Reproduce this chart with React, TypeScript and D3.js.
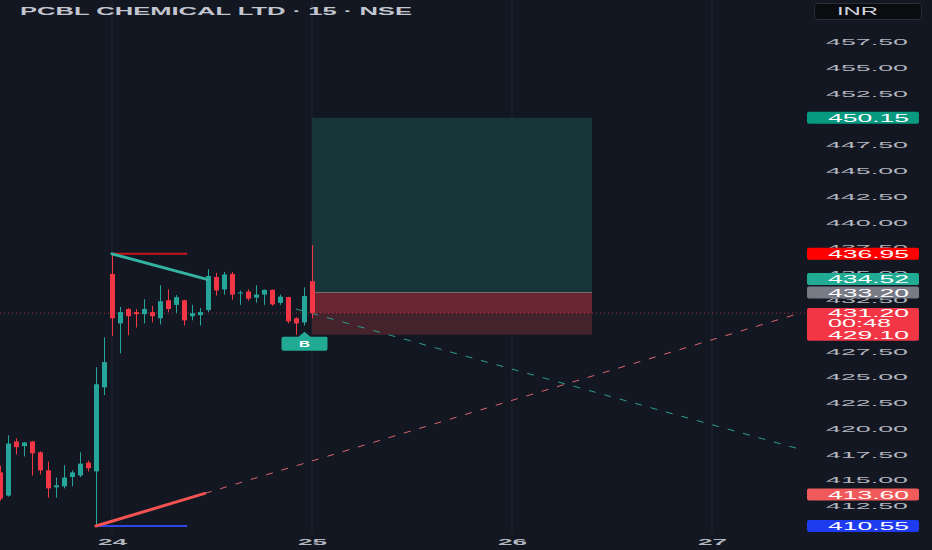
import React, { useEffect, useRef } from 'react';
import * as d3 from 'd3';

const WIDTH = 932;
const HEIGHT = 550;

// 15m bars, index 0 = first bar of the 24th (25 bars a session)
const barIndex = [-14, -13, -12, -11, -10, -9, -8, -7, -6, -5, -4, -3, -2, -1,
  0, 1, 2, 3, 4, 5, 6, 7, 8, 9, 10, 11, 12, 13, 14, 15, 16, 17, 18, 19, 20, 21, 22, 23, 24, 25];
const opens = [415.75, 413.5, 418.75, 418.3, 418.75, 417.7, 415.95, 414.3, 414.4, 415.3, 415.45, 416.7, 415.85, 424.0,
  435.0, 430.2, 431.6, 431.3, 431.1, 431.3, 430.7, 432.45, 432.0, 432.45, 430.9, 431.0, 431.5, 434.7, 433.5, 435.0,
  433.1, 433.3, 432.7, 433.0, 433.45, 432.2, 432.75, 430.7, 430.3, 434.3];
const highs = [416.4, 419.35, 419.05, 418.7, 418.8, 417.8, 416.8, 415.25, 416.45, 415.95, 417.7, 416.9, 425.95, 428.85,
  436.95, 431.8, 431.7, 431.6, 432.55, 431.9, 433.9, 433.5, 432.95, 432.5, 432.0, 431.7, 435.45, 435.1, 435.2, 435.2,
  433.4, 433.5, 433.9, 433.5, 433.5, 433.0, 432.8, 430.8, 433.7, 437.8];
const lows = [413.0, 413.4, 417.5, 417.3, 415.45, 415.55, 413.3, 413.3, 414.2, 414.4, 415.3, 415.85, 410.55, 423.25,
  429.0, 427.3, 429.05, 429.8, 430.2, 430.3, 430.1, 431.3, 431.2, 430.0, 430.5, 430.0, 431.3, 432.9, 433.0, 432.5,
  432.0, 432.4, 432.2, 432.0, 431.9, 432.0, 430.2, 429.1, 430.0, 430.7];
const closes = [413.2, 418.55, 418.2, 418.65, 417.6, 415.95, 414.2, 414.5, 415.25, 415.75, 416.6, 416.15, 424.3, 426.45,
  430.7, 431.3, 430.9, 431.1, 431.6, 430.9, 432.35, 431.6, 432.75, 430.5, 431.2, 431.3, 434.8, 433.4, 434.95, 433.0,
  433.2, 432.6, 433.0, 433.45, 432.05, 432.8, 430.4, 430.2, 432.85, 431.2];

// 450.00 and 430.00 sit fully under price tags, so they are left out
const priceTicks = [457.5, 455, 452.5, 447.5, 445, 442.5, 440, 437.5, 435, 432.5, 427.5, 425, 422.5, 420, 417.5, 415, 412.5];
const dayLabels = ['24', '25', '26', '27'];
const dayStarts = [0, 25, 50, 75];

// drawings, as [bar index, price]
const highLine = [[0, 436.95], [9.4, 436.95]];
const fallingLine = [[0, 436.95], [12, 434.45]];
const fallingExt = [[23, 431.6], [86, 418.0]];
const risingLine = [[-2, 410.55], [11.6, 413.71]];
const risingExt = [[11.6, 413.71], [86, 431.2]];
const lowLine = [[-2, 410.55], [9.4, 410.55]];

// long position tool
const positionBars = [25, 60];
const targetPrice = 450.15;
const entryPrice = 433.2;
const stopPrice = 429.1;
const lastPrice = 431.2;
const countdown = '00:48';
const buyBar = 24;

const tagPrices = [450.15, 436.95, 434.52, 433.2, 413.6, 410.55];
const tagColors = ['#089981', '#ff0000', '#22ab94', '#787b86', '#f05a5a', '#1e3bf0'];

const App: React.FC = () => {
  const svgRef = useRef<SVGSVGElement>(null);

  useEffect(() => {
    if (!svgRef.current) return;
    const svg = d3.select(svgRef.current);
    svg.selectAll('*').remove();

    const x = d3.scaleLinear().domain([0, 25]).range([112, 312]);
    const y = d3.scaleLinear().domain([410.55, 457.5]).range([526, 42]);
    const plotRight = 805;
    const font = "'Liberation Sans', Arial, sans-serif";
    const up = '#26a69a';
    const down = '#f23645';

    svg.append('rect').attr('width', WIDTH).attr('height', HEIGHT).attr('fill', '#131722');

    svg.append('defs').append('clipPath').attr('id', 'plot')
      .append('rect').attr('x', 0).attr('y', 0).attr('width', plotRight).attr('height', 533);

    // day grid
    svg.append('g').selectAll('line').data(dayStarts).join('line')
      .attr('x1', d => x(d)).attr('x2', d => x(d))
      .attr('y1', 0).attr('y2', 533)
      .attr('stroke', '#232733').attr('stroke-width', 1);

    const plot = svg.append('g').attr('clip-path', 'url(#plot)');

    // position box
    const px0 = x(positionBars[0]);
    const px1 = x(positionBars[1]);
    plot.append('rect').attr('x', px0).attr('width', px1 - px0)
      .attr('y', y(targetPrice)).attr('height', y(entryPrice) - y(targetPrice))
      .attr('fill', '#18363a');
    plot.append('rect').attr('x', px0).attr('width', px1 - px0)
      .attr('y', y(entryPrice)).attr('height', y(lastPrice) - y(entryPrice))
      .attr('fill', '#6a2533');
    plot.append('rect').attr('x', px0).attr('width', px1 - px0)
      .attr('y', y(lastPrice)).attr('height', y(stopPrice) - y(lastPrice))
      .attr('fill', '#44232d');
    plot.append('line').attr('x1', px0).attr('x2', px1)
      .attr('y1', y(entryPrice)).attr('y2', y(entryPrice))
      .attr('stroke', '#7d6a72').attr('stroke-width', 1);

    // last price line
    plot.append('line').attr('x1', 0).attr('x2', plotRight)
      .attr('y1', y(lastPrice)).attr('y2', y(lastPrice))
      .attr('stroke', '#f23645').attr('stroke-opacity', 0.7)
      .attr('stroke-dasharray', '1 3');

    const seg = (pts: number[][]) => d3.line<number[]>().x(d => x(d[0])).y(d => y(d[1]))(pts);

    plot.append('path').attr('d', seg(fallingExt)).attr('fill', 'none')
      .attr('stroke', '#2a9d8f').attr('stroke-width', 1).attr('stroke-dasharray', '7 9');
    plot.append('path').attr('d', seg(risingExt)).attr('fill', 'none')
      .attr('stroke', '#d9646e').attr('stroke-width', 1).attr('stroke-dasharray', '7 9');

    // candles
    const bars = barIndex.map((b, i) => ({ b, o: opens[i], h: highs[i], l: lows[i], c: closes[i] }));
    const cg = plot.append('g').selectAll('g').data(bars).join('g');
    cg.append('line')
      .attr('x1', d => x(d.b) + 0.5).attr('x2', d => x(d.b) + 0.5)
      .attr('y1', d => y(d.h)).attr('y2', d => y(d.l))
      .attr('stroke', d => (d.c >= d.o ? up : down)).attr('stroke-width', 1);
    cg.append('rect')
      .attr('x', d => x(d.b) - 2).attr('width', 5)
      .attr('y', d => y(Math.max(d.o, d.c)))
      .attr('height', d => Math.max(1, Math.abs(y(d.o) - y(d.c))))
      .attr('fill', d => (d.c >= d.o ? up : down));

    // drawings
    plot.append('path').attr('d', seg(highLine)).attr('stroke', '#c8141c').attr('stroke-width', 2);
    plot.append('path').attr('d', seg(fallingLine)).attr('stroke', '#33b3a2').attr('stroke-width', 3)
      .attr('stroke-linecap', 'round');
    plot.append('path').attr('d', seg(lowLine)).attr('stroke', '#2f45e6').attr('stroke-width', 2);
    plot.append('path').attr('d', seg(risingLine)).attr('stroke', '#f05350').attr('stroke-width', 3)
      .attr('stroke-linecap', 'round');

    // buy marker
    const bx = x(buyBar) + 0.5;
    const by = y(stopPrice) - 3;
    plot.append('path')
      .attr('d', `M${bx},${by} L${bx + 6},${by + 5} L${bx + 22},${by + 5} Q${bx + 23},${by + 5} ${bx + 23},${by + 7} L${bx + 23},${by + 17} Q${bx + 23},${by + 19} ${bx + 21},${by + 19} L${bx - 21},${by + 19} Q${bx - 23},${by + 19} ${bx - 23},${by + 17} L${bx - 23},${by + 7} Q${bx - 23},${by + 5} ${bx - 21},${by + 5} L${bx - 6},${by + 5} Z`)
      .attr('fill', '#22ab94');
    plot.append('text').attr('x', bx).attr('y', by + 15.5)
      .attr('text-anchor', 'middle').attr('fill', '#ffffff')
      .attr('font-family', font).attr('font-weight', 700).attr('font-size', 9)
      .attr('textLength', 11).attr('lengthAdjust', 'spacingAndGlyphs')
      .text('B');

    // title
    svg.append('text').attr('x', 20).attr('y', 15)
      .attr('fill', '#c3c6ce').attr('font-family', font).attr('font-weight', 700).attr('font-size', 10)
      .attr('textLength', 392).attr('lengthAdjust', 'spacingAndGlyphs')
      .text('PCBL CHEMICAL LTD · 15 · NSE');

    // currency box
    svg.append('rect').attr('x', 814.5).attr('y', 3.5).attr('width', 107).attr('height', 16).attr('rx', 3)
      .attr('fill', '#0b0c10').attr('stroke', '#2a2e39');
    svg.append('text').attr('x', 837).attr('y', 15)
      .attr('fill', '#d1d4dc').attr('font-family', font).attr('font-size', 10)
      .attr('textLength', 41).attr('lengthAdjust', 'spacingAndGlyphs')
      .text('INR');

    // price axis
    svg.append('g').selectAll('text').data(priceTicks).join('text')
      .attr('x', 826).attr('y', d => y(d) + 3.3)
      .attr('fill', '#b2b5be').attr('font-family', font).attr('font-size', 9)
      .attr('textLength', 82).attr('lengthAdjust', 'spacingAndGlyphs')
      .text(d => d.toFixed(2));

    // time axis
    svg.append('g').selectAll('text').data(dayLabels).join('text')
      .attr('x', (_, i) => x(dayStarts[i]) - 14).attr('y', 545)
      .attr('fill', '#b2b5be').attr('font-family', font).attr('font-weight', 700).attr('font-size', 9.5)
      .attr('textLength', 29).attr('lengthAdjust', 'spacingAndGlyphs')
      .text(d => d);

    // price tags
    const tags = svg.append('g').selectAll('g').data(tagPrices).join('g');
    tags.append('rect').attr('x', 807).attr('width', 112)
      .attr('y', d => y(d) - 6).attr('height', 12).attr('rx', 2)
      .attr('fill', (_, i) => tagColors[i]);
    tags.append('text').attr('x', 828).attr('y', d => y(d) + 4)
      .attr('fill', '#ffffff').attr('font-family', font).attr('font-size', 10)
      .attr('textLength', 81).attr('lengthAdjust', 'spacingAndGlyphs')
      .text(d => d.toFixed(2));

    // last price / countdown / stop tag
    const ly = y(lastPrice);
    const sy = y(stopPrice);
    svg.append('rect').attr('x', 807).attr('width', 112)
      .attr('y', ly - 5).attr('height', sy - ly + 11).attr('rx', 2)
      .attr('fill', '#f23645');
    const lastTexts = [lastPrice.toFixed(2), countdown, stopPrice.toFixed(2)];
    const lastY = [ly + 3.5, ly + 13.5, sy + 4];
    svg.append('g').selectAll('text').data(lastTexts).join('text')
      .attr('x', 828).attr('y', (_, i) => lastY[i])
      .attr('fill', '#ffffff').attr('font-family', font).attr('font-size', 10)
      .attr('textLength', (d) => (d.length === 5 ? 63 : 81)).attr('lengthAdjust', 'spacingAndGlyphs')
      .text(d => d);
  }, []);

  return (
    <svg
      ref={svgRef}
      width={WIDTH}
      height={HEIGHT}
      style={{ position: 'fixed', left: 0, top: 0, display: 'block' }}
    />
  );
};

export default App;
